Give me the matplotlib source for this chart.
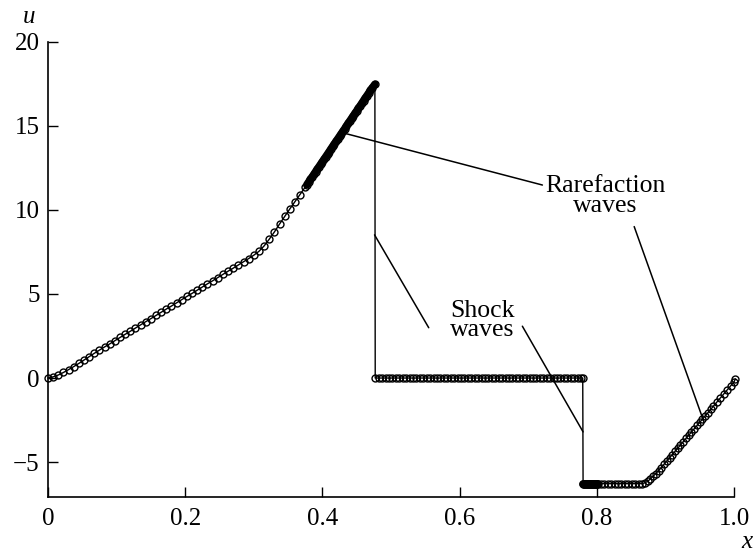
import numpy as np
import matplotlib.pyplot as plt

# smooth part, 0 <= x <= 0.375
x_smooth = [0.0, 0.0075, 0.015, 0.0225, 0.03, 0.0375, 0.045, 0.0525, 0.06, 0.0675,
            0.075, 0.0825, 0.09, 0.0975, 0.105, 0.1125, 0.12, 0.1275, 0.135, 0.1425,
            0.15, 0.1575, 0.165, 0.1725, 0.18, 0.1875, 0.195, 0.2025, 0.21, 0.2175,
            0.225, 0.2325, 0.24, 0.2475, 0.255, 0.2625, 0.27, 0.2775, 0.285, 0.2925,
            0.3, 0.3075, 0.315, 0.3225, 0.33, 0.3375, 0.345, 0.3525, 0.36, 0.3675, 0.375]
u_smooth = [0.0, 0.07, 0.18, 0.33, 0.5, 0.68, 0.87, 1.07, 1.27, 1.47,
            1.66, 1.85, 2.03, 2.22, 2.41, 2.6, 2.78, 2.97, 3.16, 3.35,
            3.53, 3.72, 3.91, 4.1, 4.28, 4.47, 4.66, 4.85, 5.03, 5.22,
            5.41, 5.6, 5.78, 5.97, 6.16, 6.35, 6.53, 6.72, 6.91, 7.1,
            7.3, 7.53, 7.85, 8.25, 8.68, 9.15, 9.6, 10.05, 10.48, 10.9, 11.35]

# rarefaction fan (dense nodes)
x_fan = [0.3775, 0.38, 0.3825, 0.385, 0.3875, 0.39, 0.3925, 0.395, 0.3975, 0.4,
         0.4025, 0.405, 0.4075, 0.41, 0.4125, 0.415, 0.4175, 0.42, 0.4225, 0.425,
         0.4275, 0.43, 0.4325, 0.435, 0.4375, 0.44, 0.4425, 0.445, 0.4475, 0.45,
         0.4525, 0.455, 0.4575, 0.46, 0.4625, 0.465, 0.4675, 0.47, 0.4725, 0.4765]
u_fan = [11.5, 11.65, 11.8, 11.95, 12.1, 12.26, 12.41, 12.56, 12.71, 12.86,
         13.01, 13.16, 13.31, 13.46, 13.62, 13.77, 13.92, 14.07, 14.22, 14.37,
         14.52, 14.67, 14.82, 14.97, 15.13, 15.28, 15.43, 15.58, 15.73, 15.88,
         16.03, 16.18, 16.33, 16.49, 16.64, 16.79, 16.94, 17.09, 17.24, 17.45]

# plateau after first shock
x_mid = [0.477, 0.482, 0.487, 0.492, 0.497, 0.502, 0.507, 0.512, 0.517, 0.522,
         0.527, 0.532, 0.537, 0.542, 0.547, 0.552, 0.557, 0.562, 0.567, 0.572,
         0.577, 0.582, 0.587, 0.592, 0.597, 0.602, 0.607, 0.612, 0.617, 0.622,
         0.627, 0.632, 0.637, 0.642, 0.647, 0.652, 0.657, 0.662, 0.667, 0.672,
         0.677, 0.682, 0.687, 0.692, 0.697, 0.702, 0.707, 0.712, 0.717, 0.722,
         0.727, 0.732, 0.737, 0.742, 0.747, 0.752, 0.757, 0.762, 0.767, 0.772,
         0.777, 0.7795]
u_mid = [0.0, 0.0, 0.0, 0.0, 0.0, 0.0, 0.0, 0.0, 0.0, 0.0,
         0.0, 0.0, 0.0, 0.0, 0.0, 0.0, 0.0, 0.0, 0.0, 0.0,
         0.0, 0.0, 0.0, 0.0, 0.0, 0.0, 0.0, 0.0, 0.0, 0.0,
         0.0, 0.0, 0.0, 0.0, 0.0, 0.0, 0.0, 0.0, 0.0, 0.0,
         0.0, 0.0, 0.0, 0.0, 0.0, 0.0, 0.0, 0.0, 0.0, 0.0,
         0.0, 0.0, 0.0, 0.0, 0.0, 0.0, 0.0, 0.0, 0.0, 0.0,
         0.0, 0.0]

# plateau after second shock
x_low = [0.78, 0.781, 0.782, 0.783, 0.784, 0.785, 0.786, 0.787, 0.788, 0.789,
         0.79, 0.791, 0.792, 0.793, 0.794, 0.795, 0.796, 0.797, 0.798, 0.799,
         0.8, 0.801, 0.802, 0.806, 0.811, 0.816, 0.821, 0.826, 0.831, 0.836,
         0.841, 0.846, 0.851, 0.856, 0.861, 0.8655]
u_low = [-6.28, -6.28, -6.28, -6.28, -6.28, -6.28, -6.28, -6.28, -6.28, -6.28,
         -6.28, -6.28, -6.28, -6.28, -6.28, -6.28, -6.28, -6.28, -6.28, -6.28,
         -6.28, -6.28, -6.28, -6.28, -6.28, -6.28, -6.28, -6.28, -6.28, -6.28,
         -6.28, -6.28, -6.28, -6.28, -6.28, -6.27]

# rarefaction on the right
x_right = [0.87, 0.874, 0.878, 0.882, 0.886, 0.89, 0.894, 0.898, 0.902, 0.906,
           0.91, 0.914, 0.918, 0.922, 0.926, 0.93, 0.934, 0.938, 0.942, 0.946,
           0.95, 0.954, 0.958, 0.962, 0.966, 0.97, 0.975, 0.98, 0.985, 0.99,
           0.995, 1.0, 1.002]
u_right = [-6.23, -6.14, -6.0, -5.84, -5.68, -5.51, -5.32, -5.13, -4.94, -4.74,
           -4.55, -4.36, -4.17, -3.98, -3.78, -3.59, -3.4, -3.21, -3.02, -2.82,
           -2.63, -2.44, -2.25, -2.06, -1.86, -1.67, -1.43, -1.19, -0.95, -0.71,
           -0.47, -0.23, -0.06]

x = np.concatenate([x_smooth, x_fan, x_mid, x_low, x_right])
u = np.concatenate([u_smooth, u_fan, u_mid, u_low, u_right])

plt.rcParams['font.family'] = ['Liberation Serif', 'DejaVu Serif']
plt.rcParams['font.size'] = 18

fig = plt.figure(figsize=(7.54, 5.54), dpi=100)
ax = fig.add_axes([48/754, 57/554, 686/754, 455.5/554])

ax.plot(x, u, color='black', lw=1.0, marker='o', ms=5, mfc='none',
        mec='black', mew=1.0, clip_on=False, zorder=3)
# fan nodes are so close they merge into a solid band
ax.plot(x_fan, u_fan, color='black', lw=5.5, solid_capstyle='round', zorder=2)
ax.plot(x_low[:23], u_low[:23], color='black', lw=5.5, solid_capstyle='round', zorder=2)

ax.set_xlim(0, 1.0)
ax.set_ylim(-7.07, 20)
ax.set_xticks([0, 0.2, 0.4, 0.6, 0.8, 1.0])
ax.set_xticklabels(['0', '0.2', '0.4', '0.6', '0.8', '1.0'])
ax.set_yticks([-5, 0, 5, 10, 15, 20])
ax.spines['top'].set_visible(False)
ax.spines['right'].set_visible(False)
ax.spines['left'].set_linewidth(1.2)
ax.spines['bottom'].set_linewidth(1.2)
ax.tick_params(axis='both', direction='in', length=7, width=1.0, labelsize=18)
ax.tick_params(axis='x', pad=8)
ax.tick_params(axis='y', pad=6)

fig.text(29/754, 1-17/554, 'u', fontstyle='italic', fontsize=18, ha='center', va='center')
fig.text(747/754, 1-548/554, 'x', fontstyle='italic', fontsize=18, ha='center', va='baseline')

# labels and leader lines
ax.text(0.8127, 10.82, 'Rarefaction\nwaves', ha='center', va='center',
        multialignment='center', fontsize=18.5, linespacing=0.85)
ax.text(0.6336, 3.42, 'Shock\nwaves', ha='center', va='center',
        multialignment='center', fontsize=18.5, linespacing=0.85)

lead = dict(arrowstyle='-', color='black', lw=1.1, shrinkA=0, shrinkB=0)
ax.annotate('', xy=(0.431, 14.56), xytext=(0.7207, 11.47), arrowprops=lead)
ax.annotate('', xy=(0.9556, -2.54), xytext=(0.8545, 9.0), arrowprops=lead)
ax.annotate('', xy=(0.476, 8.51), xytext=(0.555, 2.99), arrowprops=lead)
ax.annotate('', xy=(0.780, -3.2), xytext=(0.6915, 3.08), arrowprops=lead)

fig.savefig('out.png', dpi=100)
